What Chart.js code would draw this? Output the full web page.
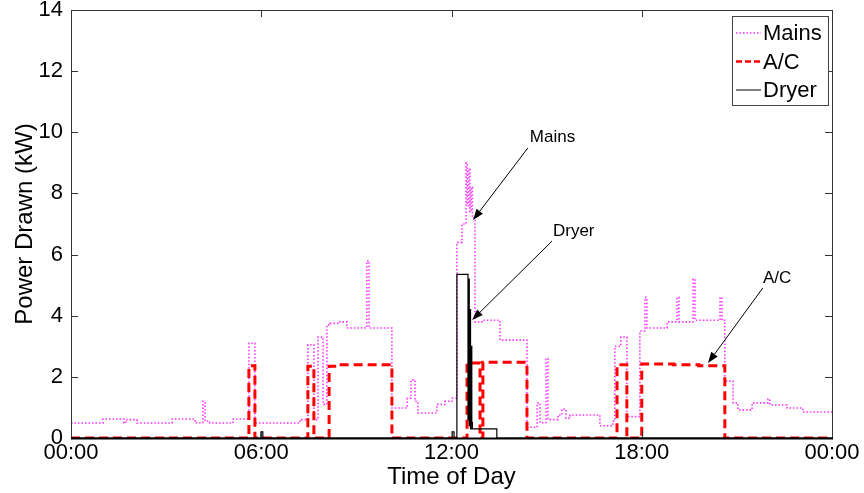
<!DOCTYPE html>
<html>
<head>
<meta charset="utf-8">
<title>Power Drawn by Time of Day</title>
<script src="https://cdn.jsdelivr.net/npm/chart.js@4.4.1/dist/chart.umd.min.js"></script>
<style>
  html, body { margin: 0; padding: 0; background: #fff; }
  #chart { display: block; }
</style>
</head>
<body>
<canvas id="chart" width="864" height="493"></canvas>
<script>
// Time of day in hours (0-24), power in kW. Each point starts a new step.
const mainsHours = [0, 1.01, 1.67, 1.73, 2.08, 3.19, 3.91, 4.16, 4.23, 4.38, 5.11, 5.61, 5.80,
  7.22, 7.47, 7.66, 7.79, 7.95, 8.07, 8.17, 8.48, 8.70, 9.33, 9.40, 10.12, 10.60, 10.72, 10.85,
  10.94, 11.54, 11.79, 12.02, 12.17, 12.33, 12.46, 12.50, 12.54, 12.58, 12.62, 12.66, 12.74,
  12.96, 13.53, 14.38, 14.70, 14.79, 14.98, 15.04, 15.36, 15.48, 15.61, 15.74, 16.68, 17.09,
  17.15, 17.34, 17.53, 17.94, 18.10, 18.16, 18.80, 19.11, 19.17, 19.62, 19.68, 20.47, 20.53,
  20.62, 20.88, 21.03, 21.48, 21.98, 22.04, 22.58, 23.08, 24];
const mainsKW = [0.49, 0.62, 0.49, 0.60, 0.49, 0.62, 0.50, 1.20, 0.55, 0.49, 0.62, 3.10, 0.49,
  0.60, 3.05, 0.60, 3.30, 1.10, 3.70, 3.75, 3.80, 3.60, 5.80, 3.60, 0.98, 1.30, 1.90, 1.20,
  0.82, 1.10, 1.20, 1.30, 6.40, 7.00, 9.00, 7.60, 8.80, 7.40, 8.20, 7.20, 3.80,
  3.85, 3.20, 0.35, 1.15, 0.50, 2.60, 0.60, 0.75, 0.95, 0.65, 0.75, 0.40, 0.55,
  3.00, 3.30, 0.70, 3.50, 4.60, 3.60, 3.80, 4.60, 3.80, 5.20, 3.85, 4.60, 3.85,
  1.86, 1.15, 0.92, 1.15, 1.27, 1.08, 0.98, 0.85, 0.85];

const acHours = [0, 5.61, 5.80, 7.47, 7.66, 8.14, 8.40, 10.12, 12.49, 12.90, 12.99, 14.38,
  17.22, 17.53, 18.00, 19.00, 19.80, 20.62, 24];
const acKW = [0, 2.36, 0, 2.35, 0, 2.35, 2.40, 0, 2.45, 0, 2.48, 0,
  2.40, 0, 2.42, 2.40, 2.36, 0, 0];

const dryerHours = [0, 5.99, 6.05, 12.02, 12.08, 12.17, 12.52, 12.54, 12.56, 12.58, 12.60,
  12.62, 12.64, 12.66, 13.43, 24];
const dryerKW = [0, 0.2, 0, 0.2, 0, 5.35, 0.6, 5.2, 0.4, 4.2, 0.3, 3.0, 0.5, 0.3, 0, 0];

const xTicks = [0, 6, 12, 18, 24];
const xTickLabels = ['00:00', '06:00', '12:00', '18:00', '00:00'];
const yTicks = [0, 2, 4, 6, 8, 10, 12, 14];

const FONT = 'Arial, "Liberation Sans", Helvetica, sans-serif';

function toPoints(xs, ys) {
  return xs.map((x, i) => ({ x: x, y: ys[i] }));
}

// MATLAB-like box with inward ticks on all four sides
const frame = {
  id: 'frame',
  afterDatasetsDraw(chart) {
    const { ctx, chartArea: a, scales } = chart;
    ctx.save();
    ctx.strokeStyle = '#333';
    ctx.lineWidth = 1;
    ctx.strokeRect(a.left + 0.5, a.top + 0.5, a.right - a.left, a.bottom - a.top);
    ctx.beginPath();
    xTicks.forEach(v => {
      const px = Math.round(scales.x.getPixelForValue(v)) + 0.5;
      ctx.moveTo(px, a.bottom); ctx.lineTo(px, a.bottom - 7);
      ctx.moveTo(px, a.top); ctx.lineTo(px, a.top + 7);
    });
    yTicks.forEach(v => {
      const py = Math.round(scales.y.getPixelForValue(v)) + 0.5;
      ctx.moveTo(a.left, py); ctx.lineTo(a.left + 7, py);
      ctx.moveTo(a.right, py); ctx.lineTo(a.right - 7, py);
    });
    ctx.stroke();
    ctx.strokeStyle = '#000';
    ctx.lineWidth = 2;
    ctx.beginPath();
    ctx.moveTo(a.left, a.bottom + 0.5);
    ctx.lineTo(a.right + 1, a.bottom + 0.5);
    ctx.stroke();
    ctx.restore();
  }
};

// text labels with arrows, positioned in data units
const callouts = [
  { text: 'Mains', at: [14.47, 9.68], from: [14.41, 9.49], to: [12.68, 7.13] },
  { text: 'Dryer', at: [15.20, 6.61], from: [15.17, 6.44], to: [12.65, 3.86] },
  { text: 'A/C', at: [21.82, 5.07], from: [21.82, 4.91], to: [20.09, 2.45] }
];

const arrows = {
  id: 'arrows',
  afterDatasetsDraw(chart) {
    const { ctx, scales: { x, y } } = chart;
    ctx.save();
    ctx.fillStyle = '#000';
    ctx.strokeStyle = '#000';
    ctx.lineWidth = 1;
    ctx.font = '17px ' + FONT;
    ctx.textBaseline = 'alphabetic';
    callouts.forEach(c => {
      ctx.fillText(c.text, x.getPixelForValue(c.at[0]), y.getPixelForValue(c.at[1]));
      const x0 = x.getPixelForValue(c.from[0]), y0 = y.getPixelForValue(c.from[1]);
      const x1 = x.getPixelForValue(c.to[0]), y1 = y.getPixelForValue(c.to[1]);
      const ang = Math.atan2(y1 - y0, x1 - x0);
      const len = 11, half = 4;
      const bx = x1 - len * Math.cos(ang), by = y1 - len * Math.sin(ang);
      ctx.beginPath();
      ctx.moveTo(x0, y0);
      ctx.lineTo(bx, by);
      ctx.stroke();
      ctx.beginPath();
      ctx.moveTo(x1, y1);
      ctx.lineTo(bx + half * Math.sin(ang), by - half * Math.cos(ang));
      ctx.lineTo(bx - half * Math.sin(ang), by + half * Math.cos(ang));
      ctx.closePath();
      ctx.fill();
    });
    ctx.restore();
  }
};

// boxed legend in the top right corner
const boxLegend = {
  id: 'boxLegend',
  afterDraw(chart) {
    const { ctx, chartArea: a } = chart;
    const right = a.right - 4, top = a.top + 6, w = 96, h = 89;
    const left = right - w;
    ctx.save();
    ctx.fillStyle = '#fff';
    ctx.fillRect(left, top, w, h);
    ctx.strokeStyle = '#444';
    ctx.lineWidth = 1;
    ctx.strokeRect(left + 0.5, top + 0.5, w, h);
    ctx.font = '22px ' + FONT;
    ctx.textBaseline = 'middle';
    ctx.fillStyle = '#000';
    chart.data.datasets.forEach((ds, i) => {
      const cy = top + 17 + i * 28.5;
      ctx.beginPath();
      ctx.strokeStyle = ds.borderColor;
      ctx.lineWidth = ds.legendWidth;
      ctx.setLineDash(ds.legendDash);
      ctx.moveTo(left + 4, cy);
      ctx.lineTo(left + 29, cy);
      ctx.stroke();
      ctx.setLineDash([]);
      ctx.fillText(ds.label, left + 31, cy + 1);
    });
    ctx.restore();
  }
};

const ctx = document.getElementById('chart').getContext('2d');
const chart = new Chart(ctx, {
  type: 'line',
  data: {
    datasets: [
      {
        label: 'Mains',
        data: toPoints(mainsHours, mainsKW),
        borderColor: '#ff33ff',
        borderWidth: 1.6,
        borderDash: [1.5, 2],
        legendDash: [1.5, 2],
        legendWidth: 1.5,
        stepped: true,
        pointRadius: 0,
        order: 3
      },
      {
        label: 'A/C',
        data: toPoints(acHours, acKW),
        borderColor: '#ff0000',
        borderWidth: 3,
        borderDash: [9, 5],
        legendDash: [6, 3],
        legendWidth: 2.5,
        stepped: true,
        pointRadius: 0,
        order: 2
      },
      {
        label: 'Dryer',
        data: toPoints(dryerHours, dryerKW),
        borderColor: '#000000',
        borderWidth: 1.2,
        legendDash: [],
        legendWidth: 1,
        stepped: true,
        pointRadius: 0,
        order: 1
      }
    ]
  },
  options: {
    responsive: false,
    animation: false,
    layout: { padding: { top: 0, right: 32, left: 0, bottom: 0 } },
    plugins: {
      legend: { display: false },
      tooltip: { enabled: false }
    },
    scales: {
      x: {
        type: 'linear',
        min: 0,
        max: 24,
        afterBuildTicks: s => { s.ticks = xTicks.map(v => ({ value: v })); },
        afterFit: s => { s.height = 55; },
        ticks: {
          callback: (v, i) => xTickLabels[i],
          font: { family: FONT, size: 22 },
          color: '#000',
          padding: 2,
          maxRotation: 0,
          autoSkip: false
        },
        grid: { display: false, drawTicks: false },
        border: { display: false },
        title: {
          display: true,
          text: 'Time of Day',
          font: { family: FONT, size: 24 },
          color: '#000',
          padding: { top: 0, bottom: 1 }
        }
      },
      y: {
        min: 0,
        max: 14,
        afterBuildTicks: s => { s.ticks = yTicks.map(v => ({ value: v })); },
        afterFit: s => { s.width = 71; s.paddingTop = 10; s.paddingBottom = 0; },
        ticks: {
          font: { family: FONT, size: 22 },
          color: '#000',
          padding: 8
        },
        grid: { display: false, drawTicks: false },
        border: { display: false },
        title: {
          display: true,
          text: 'Power Drawn (kW)',
          font: { family: FONT, size: 24 },
          color: '#000',
          padding: { top: 11, bottom: 0 }
        }
      }
    }
  },
  plugins: [frame, arrows, boxLegend]
});
</script>
</body>
</html>
